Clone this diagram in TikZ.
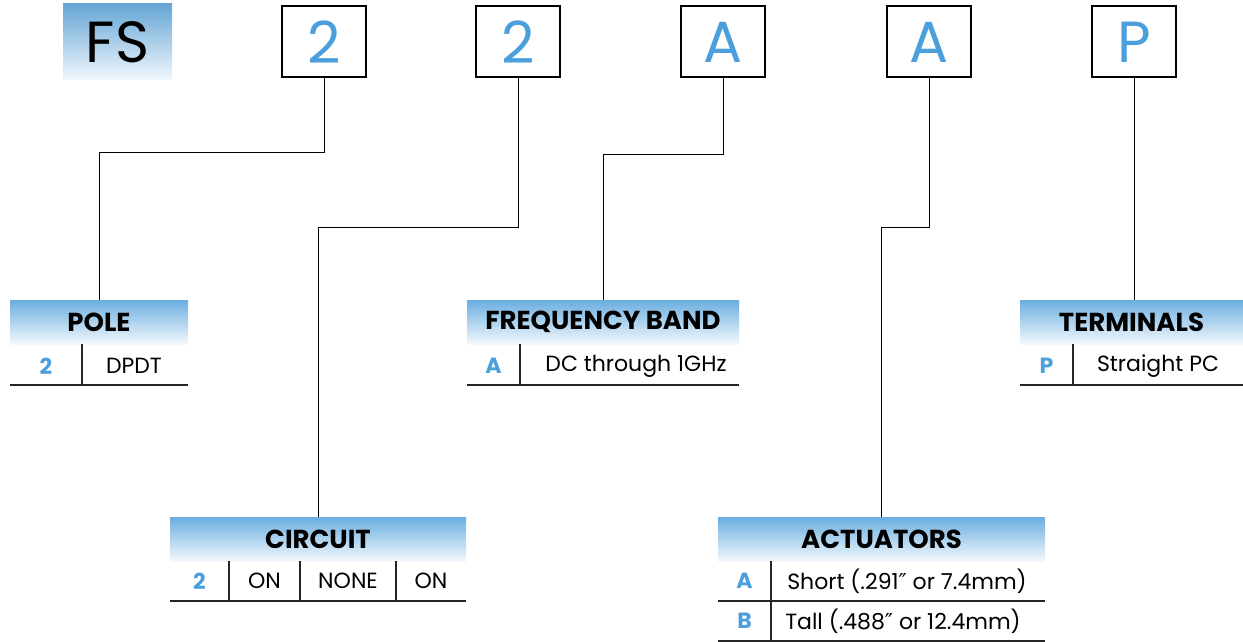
\documentclass[tikz,border=0pt]{standalone}
\usepackage{fontspec}
\setmainfont{Poppins}
\newfontfamily\primefont{DejaVu Sans}
\newcommand{\dprime}{{\primefont ″}}
\usetikzlibrary{calc}
\definecolor{fsblue}{HTML}{4A9FDC}
\definecolor{hdrtop}{HTML}{6AAEE0}
\definecolor{hdrbot}{HTML}{F2F8FD}
\tikzset{
  x=1pt, y=-1pt,
  codebox/.style={draw=black, line width=2pt, minimum width=84pt, minimum height=71pt, inner sep=0pt,
     font=\fontsize{58}{58}\selectfont, text=fsblue},
  hdr/.style={inner sep=0pt, top color=hdrtop, bottom color=hdrbot, minimum height=44pt,
     font=\fontsize{26}{26}\selectfont\bfseries},
  cell/.style={inner sep=0pt, font=\fontsize{22}{22}\selectfont},
  key/.style={inner sep=0pt, font=\fontsize{22}{22}\selectfont\bfseries, text=fsblue},
  rule/.style={line width=1.2pt, black!85},
  conn/.style={line width=1pt, black}
}
\begin{document}
\begin{tikzpicture}
\useasboundingbox (0,0) rectangle (1243,642);
% FS prefix
\node[inner sep=0pt, minimum width=109pt, minimum height=76pt, top color=hdrtop!95!black, bottom color=hdrbot,
  font=\fontsize{58}{58}\selectfont] (fs) at (117.5,42) {FS};
% code boxes
\node[codebox] (b1) at (324,42) {2};
\node[codebox] (b2) at (518,42) {2};
\node[codebox] (b3) at (723,42) {A};
\node[codebox] (b4) at (929,42) {A};
\node[codebox] (b5) at (1134,42) {P};

% POLE table
\node[hdr, minimum width=178pt] (pole) at (99,322) {POLE};
\draw[rule] (82,344) -- (82,385);
\draw[rule] (10,385) -- (188,385);
\node[key] (pk) at (46,366) {2};
\node[cell] (pv) at (134,366) {DPDT};

% FREQUENCY BAND table
\node[hdr, minimum width=272pt] (freq) at (603,322) {FREQUENCY BAND};
\draw[rule] (520,344) -- (520,385);
\draw[rule] (467,385) -- (739,385);
\node[key] (fk) at (493.5,366) {A};
\node[cell] (fv) at (636,366) {DC through 1GHz};

% TERMINALS table
\node[hdr, minimum width=223pt] (term) at (1131.5,322) {TERMINALS};
\draw[rule] (1073,344) -- (1073,385);
\draw[rule] (1020,385) -- (1243,385);
\node[key] (tk) at (1046.5,366) {P};
\node[cell] (tv) at (1158,366) {Straight PC};

% CIRCUIT table
\node[hdr, minimum width=296pt] (circ) at (318,539) {CIRCUIT};
\draw[rule] (229,561) -- (229,601);
\draw[rule] (300,561) -- (300,601);
\draw[rule] (396,561) -- (396,601);
\draw[rule] (170,601) -- (466,601);
\node[key] (ck) at (199.5,581) {2};
\node[cell] (c1) at (264.5,581) {ON};
\node[cell] (c2) at (348,581) {NONE};
\node[cell] (c3) at (431,581) {ON};

% ACTUATORS table
\node[hdr, minimum width=327pt] (act) at (881.5,539) {ACTUATORS};
\draw[rule] (771,561) -- (771,641);
\draw[rule] (718,601) -- (1045,601);
\draw[rule] (718,641) -- (1045,641);
\node[key] (ak) at (744.5,581) {A};
\node[cell] (a1) at (907,581) {Short (.291\dprime{} or 7.4mm)};
\node[key] (bk) at (744.5,621) {B};
\node[cell] (a2) at (903,621) {Tall (.488\dprime{} or 12.4mm)};

% connectors
\draw[conn] (b1.south) -- ++(0,74) -| (pole.north);
\draw[conn] (b2.south) -- ++(0,149) -| (circ.north);
\draw[conn] (b3.south) -- ++(0,76) -| (freq.north);
\draw[conn] (b4.south) -- ++(0,149) -| (act.north);
\draw[conn] (b5.south) -- (b5.south |- term.north);
\end{tikzpicture}
\end{document}
